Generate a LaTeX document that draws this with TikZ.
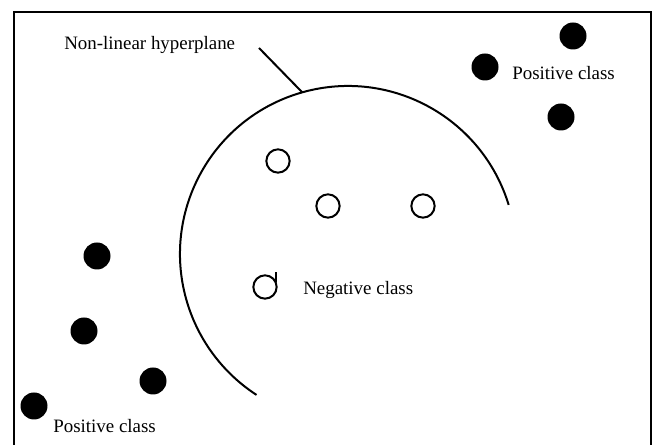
\documentclass[tikz,border=0pt]{standalone}
\usepackage{fontspec}
\setmainfont{Liberation Serif}
\usetikzlibrary{calc}

\tikzset{
  lbl/.style={font=\fontsize{14.2}{17}\selectfont, inner sep=0pt, anchor=base west},
  posdot/.style={circle, fill=black, inner sep=0pt, minimum size=20.25pt},
  negdot/.style={circle, draw=black, line width=1.5pt, inner sep=0pt, minimum size=17.5pt},
  hyper/.style={line width=1.5pt},
  frame/.style={line width=2.2pt}
}

\begin{document}
\begin{tikzpicture}[x=0.75pt, y=0.75pt]
        \useasboundingbox (0,0) rectangle (654,445);
        % Frame (open at the bottom)
        \draw[frame] (14,0) -- (14,433) -- (651,433) -- (651,0);
        % Hyperplane arc
        \coordinate (ctr) at (348,191);
        \draw[hyper] ($(ctr)+(17:168)$) arc[start angle=17, end angle=237, radius=168];
        \coordinate (hp) at ($(ctr)+(105.8:168)$);
        % Label and leader
        \node[lbl] (hplabel) at (64,395) {Non-linear hyperplane};
        \coordinate (lead) at (259,397);
        \draw[hyper] (lead) -- (hp);
        % Negative class
        \foreach \n/\x/\y in {1/278/284, 2/328/239, 3/423/239, 4/265/158}
          \node[negdot] (neg\n) at (\x,\y) {};
        \draw[hyper] (neg4.25) -- ++(0,10);
        \node[lbl] (neglabel) at (303,150) {Negative class};
        % Positive class
        \foreach \n/\x/\y in {1/573/409, 2/485/378, 3/561/328, 4/97/189, 5/84/114, 6/153/64, 7/34/39}
          \node[posdot] (pos\n) at (\x,\y) {};
        \node[lbl] (poslabel1) at (512,365) {Positive class};
        \node[lbl] (poslabel2) at (53,12) {Positive class};
      \end{tikzpicture}
\end{document}
